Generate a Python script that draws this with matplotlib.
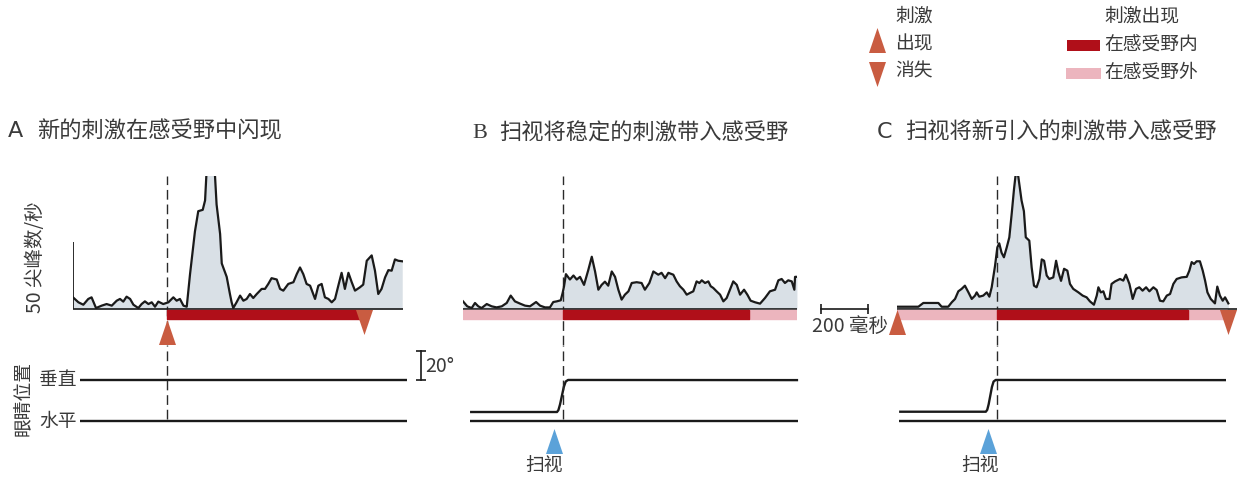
import matplotlib
matplotlib.use("Agg")
import matplotlib.pyplot as plt

plt.rcParams['font.family'] = ['Noto Sans CJK SC', 'DejaVu Sans']

# === Firing rate traces (time in ms, rate in spikes/s) ===
a_time = [0, 23, 44, 65, 79, 98, 122, 143, 165, 186,
          200, 214, 228, 243, 257, 278, 292, 306, 321, 335,
          349, 363, 384, 406, 427, 441, 455, 470, 484, 498,
          519, 533, 552, 562, 572, 586, 600, 611, 626, 633,
          654, 668, 675, 682, 696, 711, 725, 739, 753, 767,
          782, 803, 817, 831, 845, 867, 881, 895, 916, 938,
          952, 966, 980, 994, 1009, 1030, 1044, 1058, 1072, 1087,
          1101, 1115, 1129, 1143, 1157, 1172, 1186, 1200, 1221, 1235,
          1250, 1271, 1285, 1299, 1313, 1328, 1342, 1356, 1370, 1384,
          1401]
a_rate = [8.7, 5.0, 3.2, 7.5, 8.7, 0.7, 2.5, 3.7, 2.5, 6.2,
          7.5, 5.5, 9.2, 7.5, 3.2, 0.7, 3.7, 5.7, 3.7, 5.0,
          1.7, 5.5, 3.7, 5.0, 8.7, 6.2, 7.5, 2.5, 1.7, 26,
          58, 73, 74, 81, 115, 123, 113, 78, 56, 34,
          24, 11, 5.0, 0.7, 5.0, 10, 6.2, 7.5, 11.2, 8.2,
          11.2, 15, 15, 18.7, 23, 22, 15, 13.7, 18.7, 20,
          26, 31, 26, 18.7, 17.4, 7.5, 17.4, 18.7, 8.7, 7.5,
          5.0, 7.5, 17.4, 27, 15, 27, 20, 13.7, 16.2, 18.2,
          36, 40, 28.6, 11.2, 15, 23.6, 29, 28.6, 37, 36,
          35.6]

b_time = [0, 18, 37, 51, 65, 79, 101, 122, 143, 165,
          186, 203, 221, 243, 264, 285, 311, 328, 349, 370,
          384, 399, 416, 424, 430, 438, 455, 470, 484, 498,
          515, 533, 548, 562, 576, 590, 604, 618, 633, 647,
          661, 675, 689, 704, 718, 739, 760, 774, 793, 810,
          831, 845, 860, 874, 895, 909, 923, 938, 952, 966,
          980, 994, 1006, 1016, 1030, 1044, 1054, 1065, 1079, 1094,
          1108, 1122, 1136, 1150, 1165, 1179, 1196, 1210, 1224, 1243,
          1264, 1285, 1306, 1328, 1342, 1356, 1370, 1384, 1399, 1410,
          1413, 1421]
b_rate = [5.7, 2.0, 0.7, 4.5, 2.0, 0.7, 3.7, 2.0, 1.2, 2.0,
          4.5, 10, 5.7, 4.0, 2.5, 2.0, 5.2, 2.5, 1.2, 1.2,
          5.2, 5.7, 6.5, 12, 17, 26, 22, 25, 22, 24,
          18, 29, 39, 28, 14.4, 18, 20.4, 17.4, 28, 24,
          14.4, 7.0, 10.7, 13.2, 19.4, 20, 19.4, 14.4, 19.4, 28,
          25.6, 27, 23, 27, 25.6, 20.6, 17, 14.4, 10.7, 12,
          13.2, 20.6, 19.4, 21.4, 19.4, 20.6, 17, 15.7, 13.2, 10.7,
          5.7, 8.2, 14.4, 20.6, 18, 10.7, 14.4, 10.7, 6.2, 5.0,
          4.0, 8.2, 13.2, 14.4, 21.4, 22.4, 19.4, 21.4, 20.6, 14.4,
          24, 24]

c_time = [4, 91, 112, 176, 190, 218, 233, 247, 261, 275,
          289, 304, 318, 332, 339, 350, 367, 382, 393, 403,
          417, 427, 435, 445, 455, 467, 478, 488, 498, 506,
          516, 530, 540, 548, 563, 573, 583, 594, 606, 616,
          626, 637, 648, 665, 677, 687, 698, 711, 725, 736,
          750, 772, 790, 807, 821, 838, 850, 857, 867, 878,
          889, 904, 913, 928, 949, 963, 974, 989, 1003, 1017,
          1031, 1045, 1060, 1074, 1091, 1105, 1119, 1133, 1148, 1162,
          1176, 1190, 1211, 1233, 1244, 1254, 1264, 1275, 1289, 1301,
          1311, 1321, 1335, 1353, 1363, 1374, 1386, 1396, 1410]
c_rate = [1.7, 1.7, 4.5, 4.5, 1.7, 1.7, 5.0, 7.5, 13.2, 15,
          17.4, 12.4, 7.5, 10, 12.4, 9.2, 10, 12.4, 9.2, 16.2,
          32, 46, 49, 42, 38.6, 46, 53.5, 71, 89.6, 102,
          99, 81, 73, 53.5, 51, 31, 17.4, 16.2, 22.4, 37,
          36, 25, 22.4, 23.6, 36, 27.4, 21, 30, 28.6, 18.7,
          15, 12.4, 10, 8.7, 5.7, 3.2, 10, 16.2, 12.4, 13.2,
          7.5, 7.5, 18.7, 20.6, 22.4, 21.2, 25.6, 18.7, 7.5, 15,
          16.2, 13.7, 16.2, 13.2, 16.2, 14.2, 6.2, 5.7, 10, 11.2,
          18.7, 22.4, 23.6, 24, 28.6, 35, 33.6, 35.6, 35.6, 28.6,
          21.2, 12.4, 7.5, 4.2, 16.7, 10, 6.2, 8.7, 4.2]

# === Stimulus in / out of receptive field (start, end in ms) ===
a_in_rf = [(400, 1238)]
a_out_rf = []
b_in_rf = [(425, 1217)]
b_out_rf = [(0, 425), (1217, 1421)]
c_in_rf = [(425, 1238)]
c_out_rf = [(0, 425), (1238, 1404)]

# reference lines (stimulus flash in A, saccade end in B/C)
event_time = [400, 425, 425]
a_stim_on, a_stim_off = 400, 1238
c_stim_on, c_stim_off = 0, 1408
saccade_time = [387, 389]

# === Eye position (deg) ===
a_eye_t = [30, 1421]
a_vert = [28.3, 28.3]
b_eye_t = [30, 400, 406, 413, 421, 429, 437, 447, 1426]
b_vert = [6.2, 6.2, 7.5, 11.5, 17.5, 23.5, 27.2, 28.3, 28.2]
c_eye_t = [9, 378, 384, 390, 397, 404, 411, 420, 1400]
c_vert = [6.4, 6.4, 7.7, 11.5, 17.5, 23.5, 27.2, 28.3, 28.2]
horiz_span = [(30, 1421), (30, 1426), (9, 1400)]

rate_scale = 50    # spikes/s
time_scale = 200   # ms
deg_scale = 20     # deg

# === Style ===
FILL = '#d9e0e6'
RED = '#b00f19'
PINK = '#ecb5be'
ORANGE = '#c95c41'
BLUE = '#5ba2d9'
TXT = '#3a3a3a'
TRI_UP = [(0, 1), (-0.68, -1), (0.68, -1)]
TRI_DN = [(0, -1), (-0.68, 1), (0.68, 1)]

W, H = 1237, 480
PX_MS, PX_RATE, PX_DEG = 0.235, 1.34, 1.45
BASE_Y, EYE_Y = 309, 421
RATE_TOP, SPLIT, BOTTOM = 176, 345, 480

fig = plt.figure(figsize=(W / 100, H / 100), dpi=100)


def px_axes(left, top, right, bottom):
    ax = fig.add_axes([left / W, 1 - bottom / H, (right - left) / W, (bottom - top) / H])
    ax.set_axis_off()
    return ax


def draw_panel(x0, x1, t, r, in_rf, out_rf, t_line, eye_t, vert, h_span):
    ax = px_axes(x0, RATE_TOP, x1, SPLIT)
    ax.set_xlim(0, (x1 - x0) / PX_MS)
    ax.set_ylim(-(SPLIT - BASE_Y) / PX_RATE, (BASE_Y - RATE_TOP) / PX_RATE)
    ax.fill_between(t, r, 0, color=FILL, lw=0, zorder=1)
    ax.plot(t, r, color='#1a1a1a', lw=1.6, zorder=3, solid_joinstyle='round')
    ax.axhline(0, color='#1a1a1a', lw=1.2, zorder=4)
    ax.broken_barh([(s, e - s) for s, e in out_rf], (-7.5, 6.75), color=PINK, zorder=4)
    ax.broken_barh([(s, e - s) for s, e in in_rf], (-7.5, 6.75), color=RED, zorder=4)
    ax.axvline(t_line, color='#2a2a2a', lw=1.0, ls=(0, (7, 3.5)), zorder=2)

    ex = px_axes(x0, SPLIT, x1, BOTTOM)
    ex.set_xlim(0, (x1 - x0) / PX_MS)
    lo, hi = -(BOTTOM - EYE_Y) / PX_DEG, (EYE_Y - SPLIT) / PX_DEG
    ex.set_ylim(lo, hi)
    ex.plot(eye_t, vert, color='#1a1a1a', lw=1.7, clip_on=False, solid_capstyle='butt')
    ex.plot(h_span, [0, 0], color='#1a1a1a', lw=1.7, clip_on=False, solid_capstyle='butt')
    ex.axvline(t_line, ymin=(1.5 - lo) / (hi - lo), color='#2a2a2a', lw=1.0,
               ls=(0, (7, 3.5)))
    return ax, ex


ax_a, ex_a = draw_panel(73, 403, a_time, a_rate, a_in_rf, a_out_rf, event_time[0],
                        a_eye_t, a_vert, horiz_span[0])
ax_b, ex_b = draw_panel(463, 797, b_time, b_rate, b_in_rf, b_out_rf, event_time[1],
                        b_eye_t, b_vert, horiz_span[1])
ax_c, ex_c = draw_panel(897, 1237, c_time, c_rate, c_in_rf, c_out_rf, event_time[2],
                        c_eye_t, c_vert, horiz_span[2])

# stimulus onset / offset markers
ax_a.plot([a_stim_on], [-16.8], ls='none', marker=TRI_UP, ms=18, color=ORANGE,
          mec='none', clip_on=False, zorder=6)
ax_a.plot([a_stim_off], [-10], ls='none', marker=TRI_DN, ms=18, color=ORANGE,
          mec='none', clip_on=False, zorder=6)
ax_c.plot([c_stim_on], [-10], ls='none', marker=TRI_UP, ms=18, color=ORANGE,
          mec='none', clip_on=False, zorder=6)
ax_c.plot([c_stim_off], [-10], ls='none', marker=TRI_DN, ms=18, color=ORANGE,
          mec='none', clip_on=False, zorder=6)

# saccade markers
for ex, ts in zip([ex_b, ex_c], saccade_time):
    ex.plot([ts], [-13.8], ls='none', marker=TRI_UP, ms=18, color=BLUE, mec='none',
            clip_on=False)

# scale bars
ax_a.plot([0, 0], [0, rate_scale], color='#1a1a1a', lw=1.3, solid_capstyle='butt')
ax_c.plot([-323, -323 + time_scale], [0, 0], color='#1a1a1a', lw=1.2, clip_on=False)
ax_c.plot([-323, -323 + time_scale], [0, 0], ls='none', marker='|', ms=7,
          mew=1.2, color='#1a1a1a', clip_on=False)
ex_a.plot([1481, 1481], [28.3, 28.3 + deg_scale], color='#1a1a1a', lw=1.2, clip_on=False)
ex_a.plot([1481, 1481], [28.3, 28.3 + deg_scale], ls='none', marker='_', ms=7,
          mew=1.2, color='#1a1a1a', clip_on=False)

# === Text and legend (pixel overlay) ===
ov = fig.add_axes([0, 0, 1, 1], zorder=-1)
ov.set_xlim(0, W)
ov.set_ylim(H, 0)
ov.set_axis_off()

ov.text(8, 131, 'A', fontsize=16, color=TXT, va='center', family=['DejaVu Sans'])
ov.text(37, 131, '新的刺激在感受野中闪现', fontsize=16, color=TXT, va='center')
ov.text(472, 133, 'B', fontsize=16, color=TXT, va='center', family=['Liberation Serif'])
ov.text(499, 133, '扫视将稳定的刺激带入感受野', fontsize=16, color=TXT, va='center')
ov.text(877, 132, 'C', fontsize=16, color=TXT, va='center', family=['DejaVu Sans'])
ov.text(905, 132, '扫视将新引入的刺激带入感受野', fontsize=16, color=TXT, va='center')

ov.text(36, 257, '50 尖峰数/秒', fontsize=14, color=TXT, rotation=90, ha='center', va='center')
ov.text(22, 399, '眼睛位置', fontsize=13.5, color=TXT, rotation=90, ha='center', va='center')
ov.text(77, 380, '垂直', fontsize=13.5, color=TXT, ha='right', va='center')
ov.text(77, 421, '水平', fontsize=13.5, color=TXT, ha='right', va='center')
ov.text(425, 367, '20°', fontsize=14, color=TXT, ha='left', va='center')
ov.text(850, 327, '200 毫秒', fontsize=14, color=TXT, ha='center', va='center')
ov.text(544, 466, '扫视', fontsize=13.5, color=TXT, ha='center', va='center')
ov.text(980, 466, '扫视', fontsize=13.5, color=TXT, ha='center', va='center')

# legend
ov.text(895, 16, '刺激', fontsize=13.5, color=TXT, va='center')
ov.plot([876.5], [39.5], marker=TRI_UP, ms=18, color=ORANGE, mec='none')
ov.text(895, 44, '出现', fontsize=13.5, color=TXT, va='center')
ov.plot([876.5], [73.5], marker=TRI_DN, ms=18, color=ORANGE, mec='none')
ov.text(895, 71, '消失', fontsize=13.5, color=TXT, va='center')
ov.text(1104, 16, '刺激出现', fontsize=13.5, color=TXT, va='center')
ov.add_patch(plt.Rectangle((1067, 40), 33, 11, color=RED, lw=0))
ov.text(1104, 45, '在感受野内', fontsize=13.5, color=TXT, va='center')
ov.add_patch(plt.Rectangle((1066, 68), 35, 11, color=PINK, lw=0))
ov.text(1104, 72, '在感受野外', fontsize=13.5, color=TXT, va='center')

fig.savefig('out.png', dpi=100)
